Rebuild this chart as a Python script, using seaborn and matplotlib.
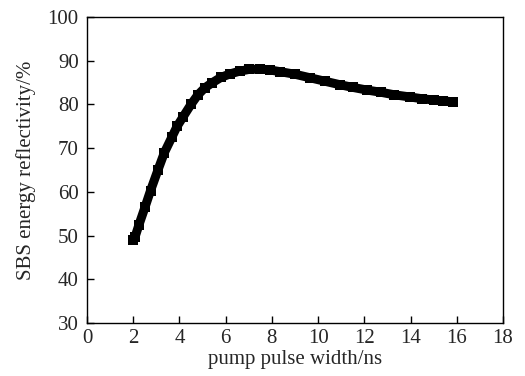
import matplotlib
matplotlib.use("Agg")
import matplotlib.pyplot as plt
import seaborn as sns
import pandas as pd

pulse_width_ns = [2.0, 2.08, 2.25, 2.51, 2.75, 3.07, 3.35, 3.68, 3.9, 4.15, 4.5, 4.8, 5.1,
                  5.4, 5.8, 6.2, 6.6, 7.0, 7.49, 7.9, 8.35, 9.0, 9.65, 10.3, 10.95,
                  11.5, 12.1, 12.7, 13.3, 13.98, 14.5, 15.0, 15.4, 15.84]
reflectivity_pct = [49.0, 49.7, 52.5, 56.5, 60.3, 65.0, 69.0, 72.6, 75.0, 77.1, 80.0, 82.2, 83.8,
                    84.9, 86.2, 87.0, 87.6, 88.0, 88.1, 87.9, 87.5, 86.9, 86.1, 85.3, 84.5,
                    83.9, 83.3, 82.8, 82.2, 81.7, 81.3, 81.0, 80.8, 80.6]

xticks = [0, 2, 4, 6, 8, 10, 12, 14, 16, 18]
yticks = [30, 40, 50, 60, 70, 80, 90, 100]

sns.set_theme(style="ticks")
plt.rcParams['font.family'] = ['Liberation Serif', 'DejaVu Serif']
plt.rcParams['font.size'] = 15

df = pd.DataFrame({"x": pulse_width_ns, "y": reflectivity_pct})

fig = plt.figure(figsize=(5.25, 3.76), dpi=100)
ax = fig.add_axes([87/525, 1-323/376, (503-87)/525, (323-17)/376])
sns.lineplot(data=df, x="x", y="y", ax=ax, color="black", linewidth=6.5,
             marker="s", markersize=6.5, markeredgewidth=0, sort=False)
for art in ax.lines:
    art.set_solid_capstyle("butt")

ax.set_xlim(0, 18)
ax.set_ylim(30, 100)
ax.set_xticks(xticks)
ax.set_yticks(yticks)
ax.set_xticklabels([str(t) for t in xticks], fontsize=15)
ax.set_yticklabels([str(t) for t in yticks], fontsize=15)
ax.tick_params(direction="in", length=5, width=1, color="black",
               top=False, right=False)
ax.tick_params(axis="x", pad=4)
ax.tick_params(axis="y", pad=6)
for s in ax.spines.values():
    s.set_color("black")
    s.set_linewidth(1)
ax.set_xlabel("pump pulse width/ns", fontsize=15, labelpad=2)
ax.set_ylabel("SBS energy reflectivity/%", fontsize=15, labelpad=8)

fig.savefig("out.png", dpi=100)
